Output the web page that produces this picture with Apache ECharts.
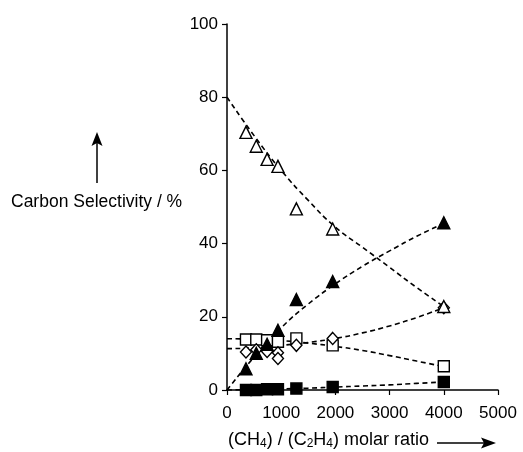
<!DOCTYPE html>
<html>
<head>
<meta charset="utf-8">
<script src="https://cdn.jsdelivr.net/npm/echarts@6/dist/echarts.min.js"></script>
<style>
  html, body { margin: 0; padding: 0; background: #fff; }
  #chart { width: 523px; height: 452px; }
</style>
</head>
<body>
<div id="chart"></div>
<script>
// measured x positions of the points (CH4/C2H4 ratio)
const ratios = [350, 540, 740, 940, 1280, 1950, 4000];
const openTriangle = [70.4, 66.6, 63, 61.1, 49.5, 44, 22.8];
const filledTriangle = [5.8, 10, 12.5, 16.3, 24.7, 29.6, 45.7];
const openSquare = [13.8, 13.8, 13.6, 13.2, 14.1, 12.2, 6.5];
const filledSquare = [0, 0, 0.2, 0.2, 0.4, 0.8, 2.2];
// two diamonds share x = 940
const diamondX = [350, 540, 740, 940, 940, 1280, 1950, 4000];
const diamondY = [10.4, 11, 10.5, 10.2, 8.6, 12.2, 14.1, 22.5];

// dashed trend curves
const fitX = [0, 500, 1000, 1500, 2000, 2500, 3000, 3500, 4000];
const fitOpenTriangle = [80, 69.5, 60, 51.8, 44.5, 39, 33.5, 28, 22.8];
const fitFilledTriangle = [0, 9, 17, 23.5, 29, 33.8, 38, 42, 45.5];
const fitOpenSquare = [14, 13.9, 13.5, 12.8, 11.9, 10.8, 9.4, 7.9, 6.4];
const fitDiamond = [11.3, 11.5, 12.2, 13, 14.1, 15.6, 17.5, 19.8, 22.5];
const fitFilledSquare = [0, 0.1, 0.3, 0.5, 0.8, 1.1, 1.4, 1.8, 2.2];

const xTicks = [0, 1000, 2000, 3000, 4000, 5000];
const yTicks = [0, 20, 40, 60, 80, 100];

const font = "Liberation Sans, Arial, sans-serif";

const zip = (xs, ys) => xs.map((x, i) => [x, ys[i]]);

function fitLine(ys) {
  return {
    type: "line",
    data: zip(fitX, ys),
    smooth: true,
    symbol: "none",
    silent: true,
    z: 1,
    lineStyle: { color: "#000", width: 1.6, type: [5, 3.5] }
  };
}

function points(data, symbol, size, filled) {
  return {
    type: "scatter",
    data: data,
    symbol: symbol,
    symbolSize: size,
    z: 3,
    itemStyle: {
      color: filled ? "#000" : "#fff",
      borderColor: "#000",
      borderWidth: 1.4,
      opacity: 1
    }
  };
}

const chart = echarts.init(document.getElementById("chart"));
chart.setOption({
  animation: false,
  backgroundColor: "#fff",
  grid: { left: 227, right: 25, top: 24, bottom: 62 },
  xAxis: {
    type: "value",
    min: xTicks[0],
    max: xTicks[xTicks.length - 1],
    interval: 1000,
    splitLine: { show: false },
    axisLine: { lineStyle: { color: "#000", width: 1.5 } },
    axisTick: { show: true, length: 5, lineStyle: { color: "#000", width: 1.2 } },
    axisLabel: {
      color: "#000", fontSize: 17, fontFamily: font, margin: 15,
      formatter: v => String(v)
    }
  },
  yAxis: {
    type: "value",
    min: yTicks[0],
    max: yTicks[yTicks.length - 1],
    interval: 20,
    splitLine: { show: false },
    axisLine: { show: true, lineStyle: { color: "#000", width: 1.5 } },
    axisTick: { show: true, length: 5, lineStyle: { color: "#000", width: 1.2 } },
    axisLabel: { color: "#000", fontSize: 17, fontFamily: font, margin: 9 }
  },
  graphic: [
    {
      type: "text",
      left: 11,
      top: 193,
      style: { text: "Carbon Selectivity / %", fill: "#000", font: "17.5px " + font }
    },
    {
      type: "line",
      shape: { x1: 97, y1: 140, x2: 97, y2: 183 },
      style: { stroke: "#000", lineWidth: 1.5 }
    },
    {
      type: "polygon",
      shape: { points: [[97, 132], [91.5, 146], [97, 143], [102.5, 146]] },
      style: { fill: "#000" }
    },
    {
      type: "text",
      left: 228,
      top: 431,
      style: {
        text: "(CH{s|4}) / (C{s|2}H{s|4}) molar ratio",
        fill: "#000",
        font: "18px " + font,
        rich: {
          s: { fontSize: 12, fontFamily: font, verticalAlign: "bottom", padding: [8, 0, 0, 0] }
        }
      }
    },
    {
      type: "line",
      shape: { x1: 437, y1: 443, x2: 488, y2: 443 },
      style: { stroke: "#000", lineWidth: 1.5 }
    },
    {
      type: "polygon",
      shape: { points: [[496, 443], [481, 437.5], [484, 443], [481, 448.5]] },
      style: { fill: "#000" }
    }
  ],
  series: [
    fitLine(fitOpenTriangle),
    fitLine(fitFilledTriangle),
    fitLine(fitOpenSquare),
    fitLine(fitDiamond),
    fitLine(fitFilledSquare),
    points(zip(ratios, filledSquare), "rect", 11, true),
    points(zip(ratios, openSquare), "rect", 11, false),
    points(zip(diamondX, diamondY), "diamond", [11, 12], false),
    points(zip(ratios, filledTriangle), "triangle", 12, true),
    points(zip(ratios, openTriangle), "triangle", 12, false)
  ]
});
</script>
</body>
</html>
